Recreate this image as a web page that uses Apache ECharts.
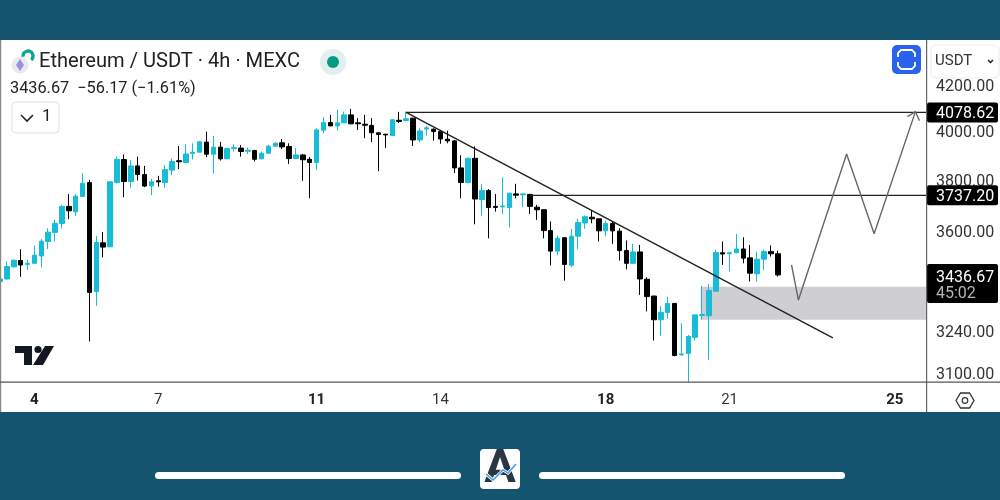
<!DOCTYPE html>
<html>
<head>
<meta charset="utf-8">
<style>
html,body{margin:0;padding:0;background:#fff;overflow:hidden;}
#chart{width:1000px;height:500px;}
</style>
<script src="https://cdn.jsdelivr.net/npm/echarts@6/dist/echarts.min.js"></script>
</head>
<body>
<div id="chart"></div>
<script>
// candles
var opens = [3413,3422,3466,3489,3475,3479,3506,3560,3594,3628,3694,3673,3733,3788,3377,3555,3540,3788,3881,3792,3855,3820,3775,3795,3788,3838,3876,3869,3906,3911,3953,3903,3932,3884,3926,3928,3915,3918,3884,3907,3936,3950,3935,3885,3900,3882,3869,4003,4035,4021,4034,4068,4034,4028,4023,3992,3986,3980,4045,4044,4054,3962,4008,4007,3997,3965,3958,3847,3788,3886,3721,3756,3694,3692,3690,3743,3739,3741,3691,3681,3601,3524,3574,3472,3580,3630,3652,3646,3600,3628,3599,3526,3479,3521,3421,3361,3278,3303,3335,3159,3164,3218,3293,3292,3378,3518,3514,3518,3532,3499,3441,3494,3522,3514];
var closes = [3422,3467,3490,3473,3479,3509,3561,3595,3629,3694,3677,3734,3785,3374,3556,3539,3791,3882,3792,3855,3820,3774,3791,3791,3840,3873,3872,3904,3911,3954,3903,3932,3884,3926,3930,3914,3919,3882,3907,3936,3948,3933,3885,3900,3880,3869,4004,4035,4021,4034,4068,4030,4030,4024,3992,3985,3983,4047,4040,4051,3962,4000,4013,3997,3966,3958,3847,3788,3886,3723,3756,3690,3690,3696,3746,3738,3743,3694,3681,3601,3524,3572,3475,3580,3632,3654,3646,3600,3628,3600,3526,3479,3521,3422,3359,3278,3304,3335,3157,3162,3221,3295,3296,3381,3519,3513,3518,3532,3498,3443,3494,3522,3514,3436.67];
var lows = [3409,3420,3464,3430,3455,3479,3464,3532,3560,3609,3645,3657,3732,3204,3327,3501,3539,3785,3730,3767,3796,3770,3738,3772,3767,3818,3842,3868,3882,3911,3891,3826,3877,3883,3914,3893,3904,3873,3882,3904,3935,3924,3863,3882,3795,3726,3838,3990,4021,4001,4033,4028,4004,3969,3953,3834,3928,3979,4033,4040,3937,3953,3980,3959,3946,3948,3826,3726,3785,3625,3659,3572,3674,3664,3613,3726,3691,3665,3642,3572,3471,3509,3416,3465,3532,3608,3629,3560,3579,3551,3489,3457,3477,3365,3307,3207,3224,3282,3154,3157,3069,3207,3278,3142,3378,3473,3449,3516,3479,3413,3413,3455,3504,3431];
var highs = [3431,3486,3494,3531,3492,3545,3569,3610,3642,3700,3742,3742,3826,3799,3581,3596,3792,3893,3902,3880,3893,3855,3803,3815,3858,3885,3937,3944,3948,3957,3997,3979,3954,3928,3944,3941,3930,3921,3914,3941,3953,3966,3948,3928,3904,3891,4011,4058,4068,4090,4082,4094,4054,4068,4054,3993,3987,4049,4081,4082,4054,4011,4021,4011,4004,4001,3962,3899,3889,3935,3783,3762,3743,3809,3748,3783,3746,3743,3700,3683,3636,3582,3576,3608,3647,3659,3678,3647,3639,3636,3610,3564,3551,3547,3428,3362,3327,3359,3336,3266,3226,3296,3398,3404,3529,3560,3520,3589,3576,3547,3522,3529,3545,3526];

// axes
var slotCount = 136;
var dayIndex = [5,23,46,64,88,106,130];
var dayLabels = ['4','7','11','14','18','21','25'];
var dayBold = [true,false,true,false,true,false,true];
var priceTicks = [3100,3240,3600,3800,4000,4200];
var priceMin = 3070;
var priceMax = 4402;

// drawings on the chart
var levelPrices = [4078.62,3737.20];
var levelStart = [59,77];
var trendIndex = [59,121];
var trendPrices = [4078.62,3216];
var pathIndex = [115,116,123,127,133];
var pathPrices = [3473,3347,3904,3589,4082];
var zoneStart = 102;
var zoneTop = 3394;
var zoneBottom = 3278;

// price tags on the axis
var tagPrices = [4078.62,3737.20,3436.67];
var tagText = ['4078.62','3737.20','3436.67'];
var countdown = '45:02';

var UP = '#17bcd6';
var BAND = '#15546f';
var FONT = 'Roboto, sans-serif';
var AXIS_X = 926; // price scale separator, drawings stop here

var categories = [];
for (var i = 0; i < slotCount; i++) {
    categories.push(String(i));
}

var candleData = opens.map(function (o, i) {
    return [o, closes[i], lows[i], highs[i]];
});

var seqData = function (xs, ys) {
    return xs.map(function (x, i) { return [x, ys[i]]; });
};

var chart = echarts.init(document.getElementById('chart'), null, {renderer: 'canvas'});

var bandRect = function (y, h) {
    return {type: 'rect', shape: {x: 0, y: y, width: 1000, height: h}, style: {fill: BAND}, z: 50};
};

var titleText = function (x, y, text, size, color) {
    return {type: 'text', x: x, y: y, style: {text: text, font: size + 'px ' + FONT, fill: color, textVerticalAlign: 'middle'}, z: 60};
};

var graphics = [
    bandRect(0, 40),
    bandRect(412, 88),
    {type: 'rect', shape: {x: 0, y: 40, width: 1.2, height: 372}, style: {fill: '#888'}, z: 40},
    {type: 'rect', shape: {x: 926, y: 40, width: 1.2, height: 372}, style: {fill: '#666'}, z: 40},
    {type: 'rect', shape: {x: 0, y: 381.5, width: 1000, height: 1.2}, style: {fill: '#555'}, z: 40},
    // header
    {type: 'circle', shape: {cx: 20, cy: 65, r: 8.5}, style: {fill: '#e9e9f1'}, z: 60},
    {type: 'polygon', shape: {points: [[20,59],[24,65],[20,71],[16,65]]}, style: {fill: '#9a8fe0'}, z: 61},
    {type: 'arc', shape: {cx: 28, cy: 56, r: 5, startAngle: -3.3, endAngle: 0.9}, style: {stroke: '#12a594', lineWidth: 3.4, fill: null}, z: 62},
    titleText(39, 62, 'Ethereum / USDT · 4h · MEXC', 20.1, '#222'),
    titleText(10, 88.5, '3436.67  −56.17 (−1.61%)', 16.3, '#222'),
    {type: 'circle', shape: {cx: 333, cy: 62, r: 13}, style: {fill: '#dff0ee'}, z: 60},
    {type: 'circle', shape: {cx: 333, cy: 62, r: 6}, style: {fill: '#089981'}, z: 61},
    {type: 'rect', shape: {x: 12, y: 102, width: 47, height: 31, r: 4}, style: {fill: '#fff', stroke: '#e0e0e0', lineWidth: 1}, z: 60},
    {type: 'polyline', shape: {points: [[21,115],[27,121],[33,115]]}, style: {stroke: '#222', lineWidth: 1.6, fill: null}, z: 61},
    titleText(42, 117, '1', 17, '#222'),
    // screenshot button
    {type: 'rect', shape: {x: 892, y: 45, width: 29, height: 29, r: 5}, style: {fill: '#2962ef'}, z: 60},
    {type: 'polyline', shape: {points: [[898,57],[898,53],[901,50],[912,50],[915,53],[915,57]]}, style: {stroke: '#fff', lineWidth: 1.8, fill: null}, z: 61},
    {type: 'polyline', shape: {points: [[898,62],[898,66],[901,69],[912,69],[915,66],[915,62]]}, style: {stroke: '#fff', lineWidth: 1.8, fill: null}, z: 61},
    // currency box
    {type: 'rect', shape: {x: 931, y: 45, width: 68, height: 33, r: 5}, style: {fill: '#fff', stroke: '#ececec', lineWidth: 1}, z: 30},
    titleText(935, 61, 'USDT', 15, '#333'),
    {type: 'polyline', shape: {points: [[988,60],[990.5,62.5],[993,60]]}, style: {stroke: '#222', lineWidth: 1.5, fill: null}, z: 61},
    // settings icon
    {type: 'polygon', shape: {points: [[956,400.5],[960.5,393],[969.5,393],[974,400.5],[969.5,408],[960.5,408]]}, style: {fill: '#fff', stroke: '#333', lineWidth: 1.3}, z: 60},
    {type: 'circle', shape: {cx: 965, cy: 400.5, r: 2.8}, style: {fill: '#fff', stroke: '#333', lineWidth: 1.2}, z: 61},
    // tradingview mark
    {type: 'polygon', shape: {points: [[15,346],[32,346],[32,365],[24,365],[24,353],[15,353]]}, style: {fill: '#131722'}, z: 60},
    {type: 'circle', shape: {cx: 38, cy: 349.5, r: 3.6}, style: {fill: '#131722'}, z: 60},
    {type: 'polygon', shape: {points: [[45,346],[54,346],[43,365],[33,365]]}, style: {fill: '#131722'}, z: 60},
    // footer
    {type: 'rect', shape: {x: 155, y: 472, width: 306, height: 7, r: 3.5}, style: {fill: '#fff'}, z: 60},
    {type: 'rect', shape: {x: 539, y: 472, width: 306, height: 7, r: 3.5}, style: {fill: '#fff'}, z: 60},
    {type: 'rect', shape: {x: 480, y: 449, width: 40, height: 40, r: 4}, style: {fill: '#fff'}, z: 60},
    {type: 'text', x: 500, y: 470, style: {text: 'A', font: 'bold 47px ' + FONT, fill: '#2a3644', textAlign: 'center', textVerticalAlign: 'middle'}, z: 61},
    {type: 'polyline', shape: {points: [[486,474],[493,480],[503,470],[508,473],[516,464]]}, style: {stroke: '#fff', lineWidth: 3, fill: null}, z: 62},
    {type: 'polyline', shape: {points: [[486,474],[493,480],[503,470],[508,473],[516,464]]}, style: {stroke: '#3d9be0', lineWidth: 1.4, fill: null}, z: 63}
];

var option = {
    animation: false,
    backgroundColor: '#fff',
    textStyle: {fontFamily: FONT},
    graphic: {elements: graphics},
    grid: {left: 0, top: 40, width: 929.2, height: 342},
    xAxis: {
        type: 'category',
        boundaryGap: false,
        data: categories,
        axisLine: {show: false},
        axisTick: {show: false},
        splitLine: {show: false},
        axisLabel: {
            margin: 11,
            fontSize: 15,
            color: '#333',
            hideOverlap: false,
            interval: function (index) {
                return dayIndex.indexOf(index) >= 0;
            },
            formatter: function (value) {
                var pos = dayIndex.indexOf(Number(value));
                if (pos < 0) {
                    return '';
                }
                return (dayBold[pos] ? '{b|' : '{n|') + dayLabels[pos] + '}';
            },
            rich: {
                b: {fontSize: 15, fontWeight: 'bold', color: '#222'},
                n: {fontSize: 15, color: '#333'}
            }
        }
    },
    yAxis: {
        type: 'log',
        logBase: 10,
        position: 'right',
        offset: -3.2,
        min: priceMin,
        max: priceMax,
        axisLine: {show: false},
        axisTick: {show: false},
        splitLine: {show: false},
        axisLabel: {
            customValues: priceTicks,
            margin: 10,
            formatter: function (value) {
                return '{p|' + Number(value).toFixed(2) + '}';
            },
            rich: {
                p: {fontSize: 16, color: '#333', padding: [4, 0, 0, 0]}
            }
        }
    },
    series: [
        {
            // grey zone under the candles
            name: 'zone',
            type: 'custom',
            z: 1,
            data: [[zoneStart, zoneTop]],
            renderItem: function (params, api) {
                var a = api.coord([zoneStart, zoneTop]);
                var b = api.coord([slotCount - 1, zoneBottom]);
                return {
                    type: 'rect',
                    shape: {x: a[0], y: a[1], width: Math.min(b[0], AXIS_X) - a[0], height: b[1] - a[1]},
                    style: {fill: '#cfcfd2'}
                };
            }
        },
        {
            name: 'ETHUSDT',
            type: 'candlestick',
            z: 2,
            barWidth: 5,
            data: candleData,
            itemStyle: {
                color: UP,
                color0: '#000',
                borderColor: UP,
                borderColor0: '#000',
                borderWidth: 1
            }
        },
        {
            name: 'trend',
            type: 'line',
            z: 3,
            symbol: 'none',
            data: seqData(trendIndex, trendPrices),
            lineStyle: {color: '#222', width: 1.4}
        },
        {
            name: 'path',
            type: 'line',
            z: 3,
            symbol: 'none',
            data: seqData(pathIndex, pathPrices),
            lineStyle: {color: '#666', width: 1.4}
        },
        {
            name: 'levels',
            type: 'custom',
            z: 3,
            data: levelPrices.map(function (p, i) { return [levelStart[i], p]; }),
            renderItem: function (params, api) {
                var a = api.coord([levelStart[params.dataIndex], levelPrices[params.dataIndex]]);
                var b = api.coord([slotCount - 1, levelPrices[params.dataIndex]]);
                return {
                    type: 'line',
                    shape: {x1: a[0], y1: a[1], x2: Math.min(b[0], AXIS_X), y2: b[1]},
                    style: {stroke: '#222', lineWidth: 1.3}
                };
            }
        },
        {
            // arrow head at the end of the path
            name: 'arrowHead',
            type: 'custom',
            z: 3,
            data: [[pathIndex[4], pathPrices[4]]],
            renderItem: function (params, api) {
                var tip = api.coord([pathIndex[4], pathPrices[4]]);
                return {
                    type: 'polyline',
                    shape: {points: [[tip[0] - 8, tip[1] + 5], tip, [tip[0] + 4, tip[1] + 9]]},
                    style: {stroke: '#666', lineWidth: 1.3, fill: null}
                };
            }
        },
        {
            name: 'tags',
            type: 'custom',
            z: 10,
            clip: false,
            data: tagPrices.map(function (p, i) { return [slotCount - 1, p]; }),
            renderItem: function (params, api) {
                var i = params.dataIndex;
                var pt = api.coord([slotCount - 1, tagPrices[i]]);
                var last = i === tagPrices.length - 1;
                var top = last ? pt[1] - 11 : pt[1] - 10;
                var h = last ? 39 : 20;
                var kids = [
                    {type: 'rect', shape: {x: 927, y: top, width: 71, height: h, r: 2}, style: {fill: '#000'}},
                    {type: 'text', style: {x: 936, y: top + (last ? 14 : 11.5), text: tagText[i], fill: '#fff', font: '16px ' + FONT, verticalAlign: 'middle'}}
                ];
                if (last) {
                    kids.push({type: 'text', style: {x: 936, y: top + 30, text: countdown, fill: '#b5b5b5', font: '16px ' + FONT, verticalAlign: 'middle'}});
                }
                return {type: 'group', children: kids};
            }
        }
    ]
};

chart.setOption(option);
</script>
</body>
</html>
